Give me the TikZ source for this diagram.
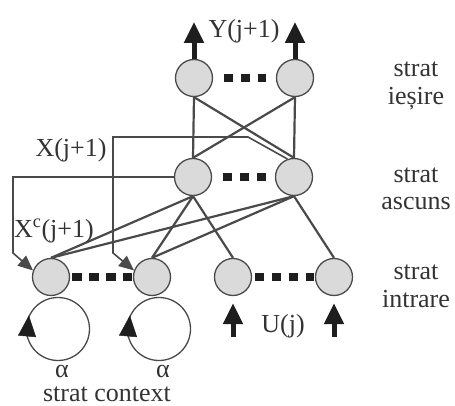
\documentclass[tikz,border=0pt]{standalone}
\usepackage{fontspec}
\setmainfont{Liberation Serif}
\usetikzlibrary{arrows.meta, positioning}
\definecolor{cline}{HTML}{4A4A4A}
\definecolor{cfill}{HTML}{DADADA}
\definecolor{cdark}{HTML}{1E1E1E}
\definecolor{ctext}{HTML}{333333}
\tikzset{
  every picture/.style={font=\fontsize{26}{28}\selectfont, line width=1.2pt},
  unit/.style={circle, draw=cline, fill=cfill, line width=1.3pt, minimum size=37pt, inner sep=0pt},
  ring/.style={circle, draw=cline, line width=1.3pt, minimum size=63pt, inner sep=0pt},
  link/.style={draw=cline, line width=2.2pt},
  feed/.style={-{Triangle[length=15pt, width=13pt]}, draw=cline, line width=1.6pt},
  bigarrow/.style={-{Triangle[length=21pt, width=19pt]}, draw=cdark, line width=5pt},
  headonly/.style={-{Triangle[length=21pt, width=18pt]}, draw=cdark, line width=0.5pt},
  dots/.style={draw=cdark, line width=8.5pt, dash pattern=on 9.5pt off 7.5pt},
  txt/.style={text=ctext, inner sep=0pt},
}

\begin{document}
\begin{tikzpicture}[x=1pt, y=-1pt]
  \useasboundingbox (0,0) rectangle (455,406);
  \foreach \n/\x in {o1/194, o2/295} \node[unit] (\n) at (\x,78) {};
  \foreach \n/\x in {h1/193, h2/294} \node[unit] (\n) at (\x,177) {};
  \foreach \n/\x in {c1/51, c2/152, i1/233, i2/334} \node[unit] (\n) at (\x,277) {};
  \node[ring] (r1) at (58,329) {};
  \node[ring] (r2) at (159,329) {};
  % weights between layers
  \foreach \a/\b in {o1/h1, o1/h2, o2/h1, o2/h2, h1/c1, h1/c2, h1/i1, h2/c1, h2/c2, h2/i2}
    \draw[link] (\a.south) -- (\b.north);
  \draw[dots, shorten <=10.5pt, shorten >=9.5pt] (o1.east) -- (o2.west);
  \draw[dots, shorten <=10.5pt, shorten >=8.5pt] (h1.east) -- (h2.west);
  \draw[dots, shorten <=2pt, shorten >=0.5pt] (c1.east) -- (c2.west);
  \draw[dots, shorten <=2.5pt, shorten >=1pt] (i1.east) -- (i2.west);
  % copies of the hidden state
  \draw[feed] (h2.110) -- (248,137) -| (113,253) -- (c2.160);
  \draw[feed] (h1.west) -| (13,253) -- (c1.160);
  \draw[headonly] (r1.195) -- (r1.155);
  \draw[headonly] (r2.195) -- (r2.155);
  % outputs and inputs
  \coordinate (y1) at (194,22);
  \coordinate (y2) at (295,22);
  \coordinate (u1) at (233,337);
  \coordinate (u2) at (334,337);
  \draw[bigarrow] (o1.north) -- (y1);
  \draw[bigarrow] (o2.north) -- (y2);
  \draw[bigarrow, shorten >=7pt] (u1) -- (i1.south);
  \draw[bigarrow, shorten >=7pt] (u2) -- (i2.south);
  \node[txt, anchor=base] (ylab) at (244,38) {Y(j+1)};
  \node[txt, anchor=base] (xlab) at (71,157) {X(j+1)};
  \node[txt, anchor=base] (xclab) at (54,237) {X\textsuperscript{c}(j+1)};
  \node[txt, anchor=base] (ulab) at (283,332) {U(j)};
  \node[txt, anchor=base] (al1) at (62,377) {α};
  \node[txt, anchor=base] (al2) at (163,377) {α};
  \node[txt, anchor=base] (ctx) at (107,401) {strat context};
  \node[txt, align=center, anchor=base] (lout) at (416,105) {strat\\ieșire};
  \node[txt, align=center, anchor=base] (lhid) at (416,210) {strat\\ascuns};
  \node[txt, align=center, anchor=base] (lin) at (416,307) {strat\\intrare};
\end{tikzpicture}
\end{document}
